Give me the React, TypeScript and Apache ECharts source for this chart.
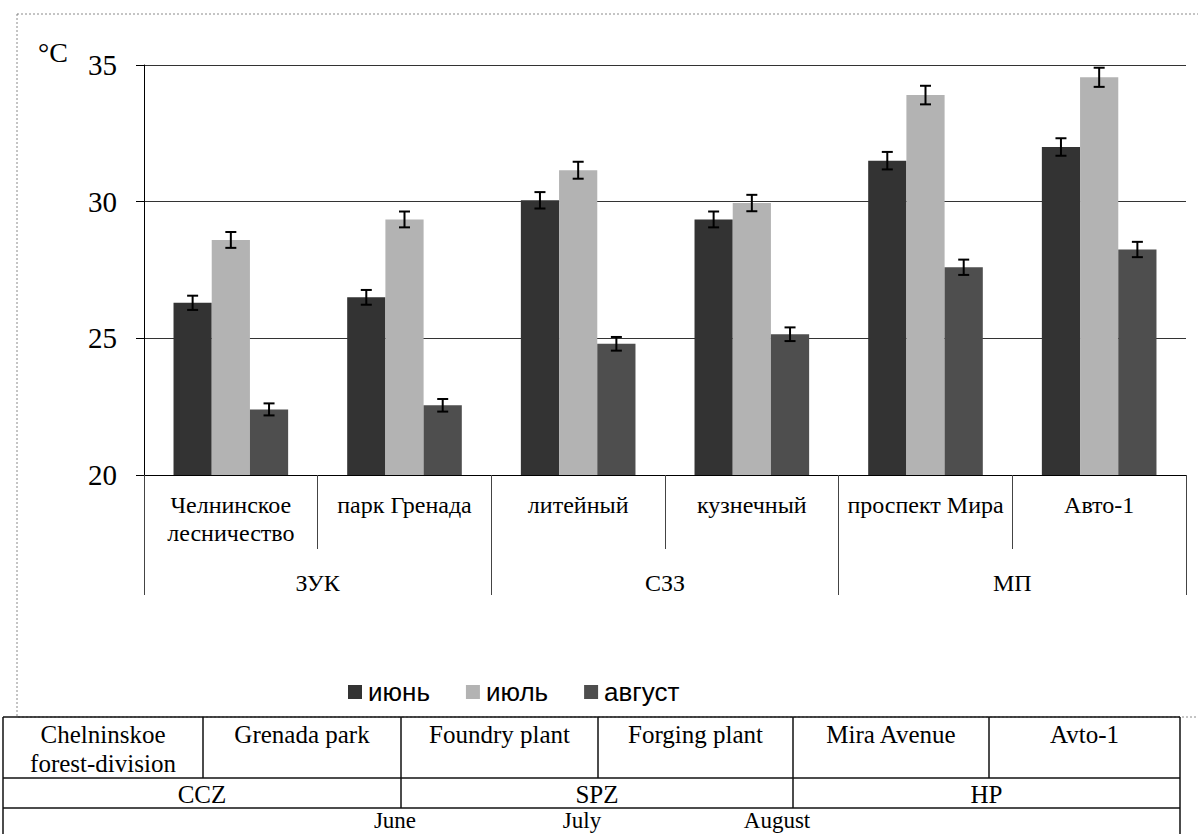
import React, { useEffect, useRef } from "react";
import * as echarts from "echarts";

const categories = ["Челнинское\nлесничество", "парк Гренада", "литейный", "кузнечный", "проспект Мира", "Авто-1"];
const groups = ["ЗУК", "СЗЗ", "МП"];
const seriesNames = ["июнь", "июль", "август"];
const juneValues = [26.3, 26.5, 30.05, 29.35, 31.5, 32.0];
const julyValues = [28.6, 29.35, 31.15, 29.95, 33.9, 34.55];
const augustValues = [22.4, 22.55, 24.8, 25.15, 27.6, 28.25];
const juneErrors = [0.26, 0.27, 0.3, 0.29, 0.32, 0.32];
const julyErrors = [0.29, 0.29, 0.31, 0.3, 0.34, 0.35];
const augustErrors = [0.22, 0.23, 0.25, 0.25, 0.28, 0.28];
const yMin = 20;
const yMax = 35;
const yInterval = 5;
const tableSites = ["Chelninskoe\nforest-division", "Grenada park", "Foundry plant", "Forging plant", "Mira Avenue", "Avto-1"];
const tableZones = ["CCZ", "SPZ", "HP"];
const tableMonths = ["June", "July", "August"];

const colors = ["#333333", "#b3b3b3", "#4e4e4e"];
const SERIF = '"Liberation Serif", "Times New Roman", serif';
const SANS = '"Liberation Sans", Arial, sans-serif';

export default function App() {
  const ref = useRef<HTMLDivElement>(null);
  useEffect(() => {
    if (!ref.current) return;
    const chart = echarts.init(ref.current, null, { renderer: "svg" });
    const values = [juneValues, julyValues, augustValues];
    const errors = [juneErrors, julyErrors, augustErrors];

    const barSeries = values.map((vals, k) => ({
      type: "bar",
      name: seriesNames[k],
      xAxisIndex: 0,
      yAxisIndex: 0,
      data: vals,
      barGap: "0%",
      barCategoryGap: "34%",
      itemStyle: { color: colors[k] },
    }));

    const errSeries = values.map((vals, k) => ({
      type: "custom",
      xAxisIndex: 0,
      yAxisIndex: 0,
      z: 10,
      silent: true,
      data: vals.map((v, i) => [i, v, errors[k][i]]),
      encode: { x: 0, y: 1 },
      renderItem: (params: any, api: any) => {
        const i = api.value(0);
        const v = api.value(1);
        const e = api.value(2);
        const top = api.coord([i, v + e]);
        const bot = api.coord([i, v - e]);
        const band = api.size([1, 0])[0];
        const bw = (band * 0.66) / 3;
        const x = top[0] + (k - 1) * bw;
        const cap = 5.5;
        const st = { stroke: "#000", lineWidth: 2 };
        return {
          type: "group",
          children: [
            { type: "line", shape: { x1: x, y1: top[1], x2: x, y2: bot[1] }, style: st },
            { type: "line", shape: { x1: x - cap, y1: top[1], x2: x + cap, y2: top[1] }, style: st },
            { type: "line", shape: { x1: x - cap, y1: bot[1], x2: x + cap, y2: bot[1] }, style: st },
          ],
        };
      },
    }));

    // table graphics
    const lineStyle = { stroke: "#111", lineWidth: 1.5 };
    const tTop = 717, r1 = 778, r2 = 808, tBot = 840;
    const tLeft = 3, tRight = 1180;
    const colX = [3, 203, 401, 598, 793, 989, 1180];
    const zoneX = [3, 401, 793, 1180];
    const g: any[] = [];
    const hline = (y: number, x1: number, x2: number) =>
      g.push({ type: "line", shape: { x1, y1: y, x2, y2: y }, style: lineStyle });
    const vline = (x: number, y1: number, y2: number) =>
      g.push({ type: "line", shape: { x1: x, y1, x2: x, y2 }, style: lineStyle });
    const text = (t: string, x: number, y: number, size: number, va: string, family = SERIF, lh = 29) =>
      g.push({
        type: "text",
        x,
        y,
        style: {
          text: t,
          font: `${size}px ${family}`,
          fontSize: size,
          fontFamily: family,
          fill: "#000",
          align: "center",
          textAlign: "center",
          verticalAlign: va,
          textVerticalAlign: va,
          lineHeight: lh,
        },
      });

    // chart frame (dotted)
    g.push({
      type: "rect",
      shape: { x: 17, y: 14, width: 1200, height: 703 },
      style: { fill: "none", stroke: "#8a8a8a", lineWidth: 1, lineDash: [2, 2] },
      z: -1,
    });
    text("°C", 53, 52, 28, "middle");

    hline(tTop, tLeft, tRight);
    hline(r1, tLeft, tRight);
    hline(r2, tLeft, tRight);
    vline(tLeft, tTop, tBot);
    vline(tRight, tTop, tBot);
    colX.slice(1, -1).forEach((x) => vline(x, tTop, r1));
    zoneX.slice(1, -1).forEach((x) => vline(x, r1, r2));
    tableSites.forEach((s, i) => text(s, (colX[i] + colX[i + 1]) / 2, 720, 25, "top"));
    tableZones.forEach((s, i) => text(s, (zoneX[i] + zoneX[i + 1]) / 2, 794, 25, "middle"));
    const monthX = [395, 582, 777];
    tableMonths.forEach((s, i) => text(s, monthX[i], 820, 23, "middle", SERIF, 24));

    chart.setOption({
      animation: false,
      backgroundColor: "#fff",
      textStyle: { fontFamily: SERIF, color: "#000" },
      grid: { left: 144, top: 65, width: 1042, height: 410, containLabel: false },
      legend: {
        data: seriesNames,
        left: 343,
        top: 674,
        icon: "rect",
        itemWidth: 14,
        itemHeight: 14,
        itemGap: 36,
        textStyle: { fontFamily: SANS, fontSize: 26, color: "#000", padding: [0, 0, 0, 1] },
      },
      xAxis: [
        {
          type: "category",
          data: categories,
          position: "bottom",
          axisLine: { show: true, lineStyle: { color: "#000", width: 1 } },
          axisTick: { show: true, length: 74, alignWithLabel: false, lineStyle: { color: "#444", width: 1 } },
          axisLabel: {
            interval: 0,
            margin: 16,
            fontFamily: SERIF,
            fontSize: 24,
            lineHeight: 28,
            color: "#000",
          },
          splitLine: { show: false },
        },
        {
          type: "category",
          data: groups,
          position: "bottom",
          axisLine: { show: false },
          axisTick: { show: true, length: 120, alignWithLabel: false, lineStyle: { color: "#444", width: 1 } },
          axisLabel: { interval: 0, margin: 94, fontFamily: SERIF, fontSize: 24, lineHeight: 28, color: "#000" },
          splitLine: { show: false },
        },
      ],
      yAxis: {
        type: "value",
        min: yMin,
        max: yMax,
        interval: yInterval,
        axisLine: { show: true, lineStyle: { color: "#000", width: 1 } },
        axisTick: { show: true, length: 8, inside: false, lineStyle: { color: "#000" } },
        axisLabel: { margin: 27, fontFamily: SERIF, fontSize: 29, color: "#000" },
        splitLine: { show: true, lineStyle: { color: "#333", width: 1 } },
      },
      graphic: g,
      series: [...barSeries, ...errSeries],
    } as any);
    return () => chart.dispose();
  }, []);
  return <div ref={ref} style={{ position: "absolute", left: 0, top: 0, width: 1198, height: 834 }} />;
}
